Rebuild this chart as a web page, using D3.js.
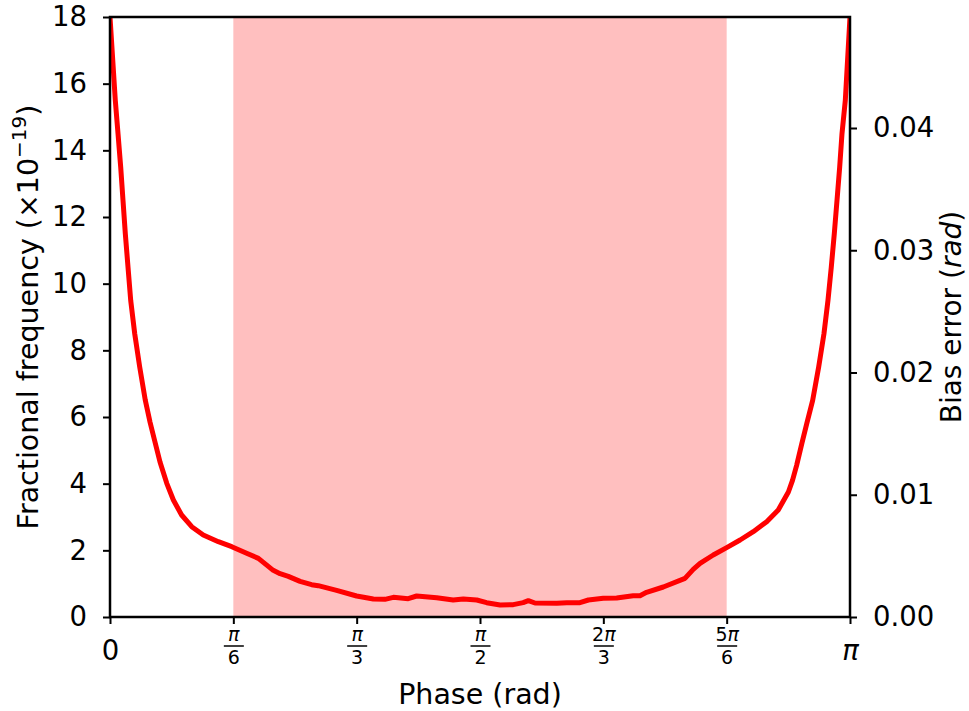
<!DOCTYPE html>
<html><head><meta charset="utf-8">
<script src="https://cdn.jsdelivr.net/npm/d3@7"></script>
<style>body{margin:0;background:#fff} text{font-family:"DejaVu Sans",sans-serif;fill:#000}</style>
</head><body><svg id="c" width="969" height="711"></svg>
<script>
// Phase (rad) and fractional frequency (x1e-19)
const phase = [0.000,0.0225,0.034,0.0454,0.0552,0.065,0.0764,0.0879,0.1049,0.1261,0.1499,0.1698,0.191,0.2123,0.241,0.269,0.304,0.347,0.396,0.460,0.517,0.580,0.630,0.651,0.693,0.722,0.757,0.807,0.856,0.884,0.962,1.047,1.118,1.167,1.203,1.266,1.302,1.387,1.457,1.500,1.557,1.599,1.656,1.712,1.754,1.776,1.804,1.897,1.939,1.995,2.031,2.094,2.151,2.221,2.250,2.278,2.349,2.441,2.476,2.505,2.561,2.618,2.675,2.731,2.788,2.837,2.880,2.8975,2.915,2.937,2.958,2.9831,3.0086,3.0311,3.0481,3.0622,3.0749,3.0864,3.0978,3.1076,3.1217,3.1416];
const fracFreq = [18.0,15.5,14.5,13.5,12.5,11.5,10.5,9.5,8.5,7.5,6.5,5.85,5.25,4.65,4.01,3.51,3.06,2.71,2.46,2.26,2.11,1.91,1.76,1.64,1.40,1.30,1.22,1.07,0.97,0.94,0.80,0.63,0.54,0.53,0.59,0.55,0.63,0.58,0.51,0.54,0.51,0.43,0.36,0.37,0.43,0.49,0.42,0.41,0.43,0.43,0.51,0.56,0.57,0.64,0.64,0.74,0.90,1.16,1.43,1.61,1.86,2.08,2.31,2.56,2.86,3.21,3.75,4.1,4.55,5.2,5.8,6.5,7.5,8.5,9.5,10.5,11.5,12.5,13.5,14.5,15.5,18.0];
const shadeRange = [Math.PI/6, 5*Math.PI/6];
const leftTicks = [0,2,4,6,8,10,12,14,16,18];
const rightTicks = [0,0.01,0.02,0.03,0.04];
const xTickPos = [0, Math.PI/6, Math.PI/3, Math.PI/2, 2*Math.PI/3, 5*Math.PI/6, Math.PI];
const xTickNum = ["0","π","π","π","2π","5π","π"];
const xTickDen = [null,"6","3","2","3","6",null];

const svg = d3.select("#c");
const L=110, R=850, T=17, B=617;
const x = d3.scaleLinear().domain([0, Math.PI]).range([L, R]);
const y = d3.scaleLinear().domain([0, 18]).range([B, T]);
const y2 = d3.scaleLinear().domain([0, 0.04*600/489]).range([B, T]);

svg.append("defs").append("clipPath").attr("id","clip")
  .append("rect").attr("x",L).attr("y",T).attr("width",R-L).attr("height",B-T);

svg.append("rect").attr("x", x(shadeRange[0])).attr("y", T)
  .attr("width", x(shadeRange[1]) - x(shadeRange[0])).attr("height", B-T)
  .attr("fill", "rgb(255,191,191)");

const line = d3.line().x((d,i)=>x(phase[i])).y((d,i)=>y(fracFreq[i]));
svg.append("path").datum(fracFreq).attr("d", line).attr("clip-path","url(#clip)")
  .attr("fill","none").attr("stroke","#ff0000").attr("stroke-width",5).attr("stroke-linejoin","round");

// frame
svg.append("rect").attr("x",L).attr("y",T).attr("width",R-L).attr("height",B-T)
  .attr("fill","none").attr("stroke","#000").attr("stroke-width",2.5);

const fs = 27.5;
// left axis
const gl = svg.append("g").attr("transform",`translate(${L},0)`)
  .call(d3.axisLeft(y).tickValues(leftTicks).tickSize(7).tickPadding(16).tickFormat(d3.format("d")));
// right axis
const gr = svg.append("g").attr("transform",`translate(${R},0)`)
  .call(d3.axisRight(y2).tickValues(rightTicks).tickSize(7).tickPadding(16).tickFormat(d3.format(".2f")));
// bottom axis
const gb = svg.append("g").attr("transform",`translate(0,${B})`)
  .call(d3.axisBottom(x).tickValues(xTickPos).tickSize(7).tickFormat(""));
[gl,gr,gb].forEach(g=>{
  g.select(".domain").remove();
  g.selectAll(".tick line").attr("stroke","#000").attr("stroke-width",2);
  g.selectAll(".tick text").style("font-family","DejaVu Sans").style("font-size",fs+"px").attr("fill","#000");
});
gb.selectAll(".tick").each(function(d,i){
  const g = d3.select(this);
  if (xTickDen[i] === null) {
    g.append("text").attr("y", 43).attr("text-anchor","middle")
      .style("font-size", fs+"px").style("font-style", i===6 ? "italic" : "normal")
      .text(xTickNum[i]);
  } else {
    const fsm = 19;
    g.append("text").attr("y", 24).attr("text-anchor","middle").style("font-size",fsm+"px").text(xTickNum[i].replace("π","")).append("tspan").style("font-style","italic").text("π");
    g.append("line").attr("x1",-10).attr("x2",10).attr("y1",29).attr("y2",29).attr("stroke","#000").attr("stroke-width",1.5);
    g.append("text").attr("y", 47).attr("text-anchor","middle").style("font-size",fsm+"px").text(xTickDen[i]);
  }
});

// axis labels
svg.append("text").attr("x",(L+R)/2).attr("y",704).attr("text-anchor","middle")
  .style("font-size","28.5px").text("Phase (rad)");
const yl = svg.append("text").attr("transform",`translate(38,${(T+B)/2}) rotate(-90)`)
  .attr("text-anchor","middle").style("font-size","28.5px");
yl.append("tspan").text("Fractional frequency (×10");
yl.append("tspan").attr("dy",-12).style("font-size","20px").text("−19");
yl.append("tspan").attr("dy",12).text(")");
const yr = svg.append("text").attr("transform",`translate(961,${(T+B)/2}) rotate(-90)`)
  .attr("text-anchor","middle").style("font-size","28px");
yr.append("tspan").text("Bias error (");
yr.append("tspan").style("font-style","italic").text("rad");
yr.append("tspan").text(")");
</script></body></html>
